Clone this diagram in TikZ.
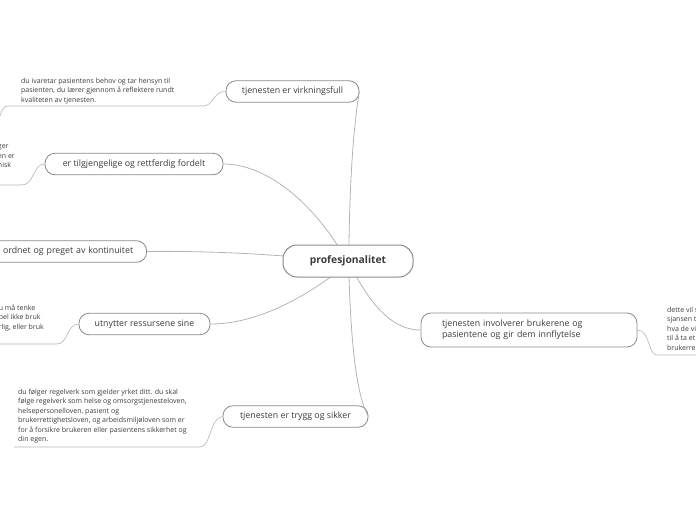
\documentclass[tikz,border=0pt]{standalone}
\usepackage{fontspec}
\setmainfont{Open Sans}
\definecolor{boxline}{HTML}{8A8A8A}
\definecolor{conn}{HTML}{B4B4B4}
\definecolor{txt}{HTML}{3C3C3C}
\begin{document}
\begin{tikzpicture}[x=1pt,y=-1pt,
  topic/.style={draw=boxline, line width=0.8pt, rounded corners=10pt, fill=white, text=txt,
    font=\fontsize{8.8pt}{11pt}\selectfont, inner sep=0pt, minimum height=21.5pt},
  central/.style={draw=boxline, line width=1pt, rounded corners=14pt, fill=white, text=txt,
    font=\fontsize{10.3pt}{12pt}\selectfont\bfseries, inner sep=0pt, minimum width=130pt, minimum height=32pt},
  note/.style={text=txt, font=\fontsize{7pt}{9.5pt}\selectfont, inner sep=0pt, align=left},
  link/.style={draw=conn, line width=0.8pt},
  sublink/.style={draw=conn, line width=0.6pt}]
\useasboundingbox (0,0) rectangle (696,520);
\clip (0,0) rectangle (696,520);

\coordinate (cT) at (349,245);
\coordinate (cTL) at (338,246);
\coordinate (cL) at (284,256);
\coordinate (cBL) at (332,276);
\coordinate (cB) at (349,277);
\coordinate (cBR) at (356,276);

\node[topic, minimum width=133pt] (vf) at (292.5,91.5) {tjenesten er virkningsfull};
\node[topic, minimum width=178pt] (tg) at (134,164) {er tilgjengelige og rettferdig fordelt};
\node[topic, anchor=east, minimum width=197pt, text width=170pt, align=right] (ko) at (147,251.5) {ordnet og preget av kontinuitet};
\node[topic, minimum width=131pt] (ur) at (144.5,324) {utnytter ressursene sine};
\node[topic, minimum width=145pt] (ts) at (295.5,416.5) {tjenesten er trygg og sikker};
\node[topic, minimum width=216pt, minimum height=34pt, text width=174pt, align=left] (ib) at (529,330)
  {tjenesten involverer brukerene og\\pasientene og gir dem innflytelse};

\draw[link] (cT) .. controls (350,160) and (356,110) .. (vf.east);
\draw[link] (cTL) .. controls (305,195) and (262,164) .. (tg.east);
\draw[link] (cL) .. controls (230,252) and (185,251) .. (ko.east);
\draw[link] (cBL) .. controls (292,305) and (250,324) .. (ur.east);
\draw[link] (cB) .. controls (351,340) and (356,395) .. (ts.east);
\draw[link] (cBR) .. controls (375,310) and (395,330) .. (ib.west);

\node[central] (pr) at (348,261) {profesjonalitet};

% notes
\node[note, anchor=north west] (n1) at (21,77.5)
  {du ivaretar pasientens behov og tar hensyn til\\pasienten, du lærer gjennom å reflektere rundt\\kvaliteten av tjenesten.};
\coordinate (n1a) at (203,106);
\coordinate (n1b) at (8,106);
\coordinate (n1c) at (-1,119);
\draw[sublink] (vf.west) .. controls (213,91) and (214,106) .. (n1a) -- (n1b) .. controls (3,106) and (1,112) .. (n1c);

\node[note, anchor=north east, align=left] (n2) at (15,144.5)
  {ger\hspace{3pt}\\en er\\nisk};
\coordinate (n2a) at (22,185);
\coordinate (n2b) at (-2,185);
\draw[sublink] (tg.west) .. controls (33,164) and (34,185) .. (n2a) -- (n2b);

\node[note, anchor=north east, align=left] (n3) at (44,304.5)
  {u må tenke\hspace{11pt}\\bel ikke bruk\hspace{4pt}\\rlig, eller bruk};
\coordinate (n3a) at (57,344);
\coordinate (n3b) at (-2,344);
\draw[sublink] (ur.west) .. controls (67,324) and (68,344) .. (n3a) -- (n3b);

\node[note, anchor=north west] (n4) at (18,388.5)
  {du følger regelverk som gjelder yrket ditt. du skal\\følge regelverk som helse og omsorgstjenesteloven,\\helsepersonelloven, pasient og\\brukerrettighetsloven, og arbeidsmiljøloven som er\\for å forsikre brukeren eller pasientens sikkerhet og\\din egen.};
\coordinate (n4a) at (200,447);
\coordinate (n4b) at (14,447);
\draw[sublink] (ts.west) .. controls (210,417) and (211,447) .. (n4a) -- (n4b);

\node[note, anchor=north west] (n5) at (667,306.5)
  {dette vil s\\sjansen t\\hva de vi\\til å ta et\\brukerre};
\coordinate (n5a) at (657,355);
\coordinate (n5b) at (700,355);
\draw[sublink] (ib.east) .. controls (650,330) and (648,355) .. (n5a) -- (n5b);
\end{tikzpicture}
\end{document}
